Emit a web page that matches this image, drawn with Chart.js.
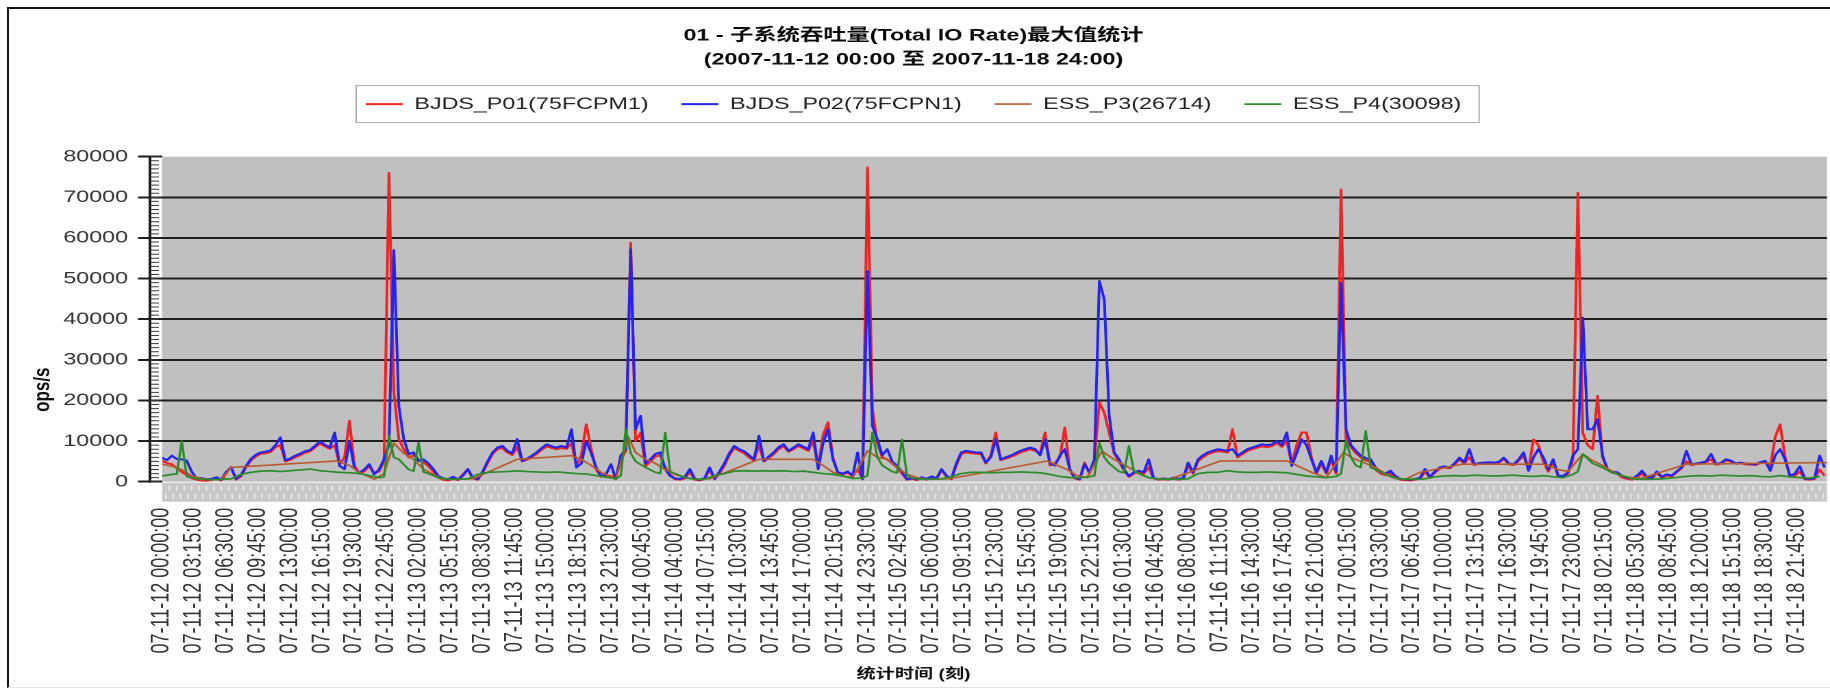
<!DOCTYPE html>
<html>
<head>
<meta charset="utf-8">
<script src="https://cdn.jsdelivr.net/npm/chart.js@4.4.1/dist/chart.umd.min.js"></script>
<style>
html,body{margin:0;padding:0;background:#fff;overflow:hidden;}
#stage{position:relative;width:1830px;height:693px;overflow:hidden;background:#fff;}
#wrap{position:absolute;left:0;top:0;width:1336px;height:693px;transform:scaleX(1.36976);transform-origin:0 0;}
#frame{position:absolute;left:7px;top:7px;right:-4px;bottom:5px;border-left:2px solid #151515;border-top:2px solid #151515;border-bottom:1px solid #e2e2e2;pointer-events:none;}
</style>
</head>
<body>
<div id="stage"><div id="wrap"><canvas id="c"></canvas></div><div id="frame"></div></div>
<script>
// ---------------- data ----------------
const chartTitle = ['01 - 子系统吞吐量(Total IO Rate)最大值统计', '(2007-11-12 00:00 至 2007-11-18 24:00)'];
const yAxisTitle = 'ops/s';
const xAxisTitle = '统计时间 (刻)';
const seriesNames = ['BJDS_P01(75FCPM1)', 'BJDS_P02(75FCPN1)', 'ESS_P3(26714)', 'ESS_P4(30098)'];

// one x-unit = one 15-minute sample; a tick label every 13 samples
const xTickLabels = [
'07-11-12 00:00:00','07-11-12 03:15:00','07-11-12 06:30:00','07-11-12 09:45:00','07-11-12 13:00:00','07-11-12 16:15:00','07-11-12 19:30:00','07-11-12 22:45:00',
'07-11-13 02:00:00','07-11-13 05:15:00','07-11-13 08:30:00','07-11-13 11:45:00','07-11-13 15:00:00','07-11-13 18:15:00','07-11-13 21:30:00',
'07-11-14 00:45:00','07-11-14 04:00:00','07-11-14 07:15:00','07-11-14 10:30:00','07-11-14 13:45:00','07-11-14 17:00:00','07-11-14 20:15:00','07-11-14 23:30:00',
'07-11-15 02:45:00','07-11-15 06:00:00','07-11-15 09:15:00','07-11-15 12:30:00','07-11-15 15:45:00','07-11-15 19:00:00','07-11-15 22:15:00',
'07-11-16 01:30:00','07-11-16 04:45:00','07-11-16 08:00:00','07-11-16 11:15:00','07-11-16 14:30:00','07-11-16 17:45:00','07-11-16 21:00:00',
'07-11-17 00:15:00','07-11-17 03:30:00','07-11-17 06:45:00','07-11-17 10:00:00','07-11-17 13:15:00','07-11-17 16:30:00','07-11-17 19:45:00','07-11-17 23:00:00',
'07-11-18 02:15:00','07-11-18 05:30:00','07-11-18 08:45:00','07-11-18 12:00:00','07-11-18 15:15:00','07-11-18 18:30:00','07-11-18 21:45:00'
];
const samplesPerLabel = 13;
const xMax = 675;

// BJDS_P01, half-hourly (every 2 samples)
const p01HalfHourly = [
5100,4600,4300,3300,2400,1700,900,500,300,200,400,800,300,2000,3600,500,1300,3500,5200,6200,
6900,7000,7300,8500,9000,5000,5400,6000,6500,7100,7500,8400,9400,8700,8100,9000,4300,6000,15000,4000,
2000,2600,3800,2200,2500,5000,76000,22000,
10500,8000,6000,6500,5500,4800,3800,2500,1000,500,300,700,400,1800,3000,800,500,2200,4600,6800,
8000,8300,7200,6600,8500,5000,5400,6100,6900,7900,8700,8300,8000,8300,8100,9500,4000,6500,14100,8000,
3000,1200,1500,1400,800,5500,7500,58800,
10000,12000,3800,5000,6200,6500,3500,1800,600,500,800,2500,500,300,700,3000,600,2000,4000,6500,
8300,7600,7000,6000,5200,9000,5000,5800,6800,8000,8700,7400,8000,8800,8200,7600,10000,3500,11500,14600,
6000,2000,1800,2200,1400,3000,800,77300,
17800,9500,6000,5500,4500,3500,2000,500,700,400,800,500,1000,700,2800,1300,600,4000,6800,7200,
7000,6900,6800,4500,6500,12100,5300,5700,6100,6600,7200,7600,8000,7600,7000,12100,4000,4500,6000,13300,
3000,800,500,4700,2000,5500,19500,17000,
12000,7000,5000,2800,1200,2000,2500,2000,3500,800,500,600,500,800,500,700,4000,2000,5000,6000,
6800,7200,7500,7400,7200,12900,6000,6800,7600,8000,8400,8700,8500,8800,9500,8600,10000,4500,9000,12100,
12100,6000,2000,4500,2000,5500,2000,71900,
10500,8500,7000,6000,5200,5000,3000,2000,1600,2200,1000,500,400,300,500,700,2500,1000,2200,3200,
3500,3300,4200,5500,4500,6000,4100,4400,4500,4600,4500,4700,5600,4300,4100,5200,6400,3000,10400,9000,
5000,2500,5000,1300,1200,2000,5500,71100,
12000,9000,8000,21100,6000,3000,2200,2000,1000,700,500,1200,2000,800,700,2200,1000,1500,1300,2300,
3300,5000,4100,4300,4500,4800,5500,4200,4400,5200,5000,4400,4500,4300,4200,4100,4600,4900,3500,11000,
14100,6000,1200,1500,2500,600,500,700,3000,1500
];

// BJDS_P02, half-hourly (every 2 samples)
const p02HalfHourly = [
5900,5300,6400,5600,5500,5200,2500,800,900,600,700,1100,500,2400,3500,700,1600,3800,5600,6600,
7200,7400,7700,9000,10900,5300,5700,6400,6900,7500,7800,8800,9900,9100,8400,12100,3900,3100,10000,3300,
2200,3000,4300,1800,3000,5500,9000,57000,
18600,10500,6800,7200,5100,5500,4500,3100,1400,800,600,1200,600,1500,3100,1000,600,2500,5000,7200,
8400,8800,7600,7000,10500,5100,5700,6400,7300,8300,9200,8700,8400,8800,8400,12900,3500,4500,10000,7000,
3500,1400,1800,4300,600,6400,8000,57200,
12900,16200,4500,5500,6800,7200,3100,1400,800,700,1200,3100,700,500,900,3500,700,2500,4500,7000,
8800,8000,7500,6500,5500,11300,5100,6200,7200,8500,9200,7600,8400,9200,8600,8000,12100,3100,9500,12900,
5500,2300,2000,2500,1500,7200,600,51800,
13700,10500,6500,8000,5000,3900,2500,600,900,600,1100,700,1300,800,3100,1500,700,4500,7200,7600,
7400,7200,7200,4700,6000,10400,5500,6000,6400,7000,7600,8000,8400,8000,6500,10400,4500,4000,6400,8000,
3100,1000,600,4300,2300,5500,49400,44900,
16200,7200,5500,3000,1400,2300,2700,2300,5500,900,600,800,600,1000,700,900,4700,2300,5500,6500,
7200,7600,8000,7800,7600,8000,6400,7200,8000,8400,8800,9200,9000,9200,10000,9000,12100,3900,7000,10400,
9000,5500,2300,5100,2300,6400,2500,49000,
12900,9000,7600,6400,5800,5500,3500,2500,2000,2700,1400,700,600,500,700,900,3100,1200,2500,3500,
3800,3500,4500,5900,4800,8000,4300,4600,4700,4800,4700,4900,5900,4500,4300,5500,7200,2700,6000,8000,
6000,3000,5500,1500,1400,2300,6400,8000,
40400,12900,12900,15400,6400,3100,2500,2300,1400,1000,800,1500,2700,1200,1000,2500,1200,1800,1500,2500,
3500,7600,4300,4500,4700,5000,6800,4400,4600,5500,5200,4500,4700,4500,4400,4300,4800,5100,2700,6500,
8000,5500,1400,2000,3800,800,700,900,6400,3500
];

// ESS_P3, only the samples where its line changes direction
const p3SampleIndex = [0,4,8,12,16,20,24,28,71,76,80,86,90,94,98,102,106,110,114,126,144,166,170,174,178,184,189,
192,196,200,204,208,212,216,222,242,264,268,272,276,280,286,290,294,298,302,306,310,319,359,
363,367,371,375,381,386,392,396,400,404,409,429,456,460,466,472,479,482,486,492,496,500,504,510,527,
560,566,570,576,580,584,588,592,596,600,618,675];
const p3Values = [4300,3800,3000,1500,800,500,600,3500,5100,4000,2300,600,2000,9500,7000,5500,3100,1800,600,700,5500,6400,5500,4000,2300,600,11000,
7200,5500,4500,3000,1800,1000,600,700,5500,5500,4000,2300,1400,1000,7600,6000,5500,3500,1800,1000,600,700,5100,
4000,3000,1500,1000,7500,5500,3500,2000,1000,600,700,5100,5100,4000,2300,1000,7200,6000,5000,3500,2000,1000,600,2300,4300,
4300,3000,2500,6800,5200,4000,2500,1400,1000,900,4300,4700];

// ESS_P4, [sample index, value]: hourly, with the samples next to each burst
const p4Samples = [
[0,1400],[4,1800],[6,1900],[8,10000],[10,1300],[12,1000],[16,600],[20,500],[24,600],[28,700],[32,1800],[36,2300],[40,2600],[44,2700],
[48,2500],[52,2700],[56,2900],[60,3100],[64,2700],[68,2500],[72,2300],[76,2200],[80,2000],[84,1500],[88,1000],[90,1200],[92,11300],[94,6000],
[96,5500],[100,3000],[102,2600],[104,9600],[106,2400],[108,2000],[112,1000],[116,600],[120,600],[124,700],[128,1800],[132,2300],[136,2400],
[140,2500],[144,2700],[148,2500],[152,2400],[156,2300],[160,2400],[164,2200],[168,2000],[172,1900],[176,1500],[180,1100],[184,700],[186,1500],
[188,12900],[190,7000],[192,5000],[196,3500],[200,2300],[202,2000],[204,12100],[206,2500],[208,2000],[212,1000],[216,600],[220,600],[224,1500],
[228,2000],[232,2600],[236,2700],[240,2600],[244,2700],[248,2600],[252,2700],[256,2500],[260,2600],[264,2300],[268,2000],[272,1800],[276,1400],
[280,800],[284,900],[286,1500],[288,12100],[290,6000],[292,4000],[296,2500],[298,2200],[300,10400],[302,1500],[304,900],[308,600],[312,600],
[316,700],[320,1200],[324,2000],[328,2300],[332,2300],[336,2200],[340,2300],[344,2300],[348,2400],[352,2300],[356,2200],[360,1800],[364,1300],
[368,1000],[372,1000],[376,1200],[378,1500],[380,9600],[382,6000],[384,4500],[388,2500],[390,2200],[392,8800],[394,2600],[396,2000],[400,1000],
[404,700],[408,600],[412,600],[416,700],[420,2000],[424,2300],[428,2300],[432,2700],[436,2400],[440,2300],[444,2300],[448,2400],[452,2300],
[456,2200],[460,1800],[464,1400],[468,1200],[472,1000],[476,1300],[478,2000],[480,10000],[482,6000],[484,4000],[486,3500],[488,12500],[490,3500],
[492,3000],[496,1800],[500,800],[504,600],[508,600],[512,700],[516,1200],[520,1400],[524,1500],[528,1400],[532,1600],[536,1500],[540,1400],
[544,1500],[548,1600],[552,1400],[556,1300],[560,1500],[564,1200],[568,1000],[572,1800],[574,2500],[576,6800],[580,4500],[584,3500],[588,2200],
[592,1500],[596,700],[600,600],[604,600],[608,700],[612,900],[616,1200],[620,1400],[624,1500],[628,1400],[632,1600],[636,1500],[640,1400],
[644,1500],[648,1300],[652,1200],[656,1500],[660,1200],[664,1000],[668,900],[672,1300]
];

// ---------------- chart ----------------
const FONT = "'Liberation Sans', Arial, 'Noto Sans CJK SC', sans-serif";
Chart.defaults.font.family = FONT;

const toPoints = (vals, step) => vals.map((v, i) => ({x: i * step, y: v}));

const legendSpacer = {
  id: 'legendSpacer',
  beforeLayout(chart) {
    const lg = chart.legend;
    if (lg && !lg._spaced) {
      const f = lg.fit;
      lg.fit = function () { f.call(this); this.height += 34.1; };
      lg._spaced = true;
    }
  }
};

const decor = {
  id: 'decor',
  beforeDraw(chart) {
    const {ctx, chartArea: a, scales: {x}} = chart;
    ctx.save();
    ctx.fillStyle = '#C0C0C0';
    ctx.fillRect(a.left, a.top, a.right - a.left, a.bottom - a.top);
    ctx.fillStyle = '#C8C8C8';
    ctx.fillRect(a.left, a.bottom + 1, a.right - a.left, 19);
    ctx.strokeStyle = '#EEEEEE';
    ctx.lineWidth = 1;
    ctx.beginPath();
    for (let v = x.min; v <= x.max; v += 3) {
      const p1 = x.getPixelForValue(v);
      ctx.moveTo(p1, a.bottom + 4); ctx.lineTo(p1, a.bottom + 9);
      const p2 = x.getPixelForValue(v + 1.5);
      if (p2 < a.right) { ctx.moveTo(p2, a.bottom + 12); ctx.lineTo(p2, a.bottom + 17); }
    }
    ctx.stroke();
    ctx.restore();
  },
  afterDraw(chart) {
    const {ctx, chartArea: a, scales: {y}} = chart;
    const ax = a.left - 8.8;
    ctx.save();
    ctx.strokeStyle = '#1a1a1a';
    ctx.lineWidth = 2;
    ctx.beginPath();
    ctx.moveTo(ax, y.getPixelForValue(y.max) - 1);
    ctx.lineTo(ax, y.getPixelForValue(y.min) + 1);
    ctx.stroke();
    ctx.strokeStyle = '#3a3a3a';
    ctx.lineWidth = 1;
    ctx.beginPath();
    for (let v = y.min; v <= y.max; v += 1000) {
      const py = y.getPixelForValue(v);
      ctx.moveTo(ax, py); ctx.lineTo(ax + 6.5, py);
    }
    ctx.stroke();
    // y axis title
    ctx.save();
    ctx.translate(31.4, a.bottom - 92);
    ctx.rotate(-Math.PI / 2);
    ctx.font = 'bold 17px ' + FONT;
    ctx.fillStyle = '#111';
    ctx.textAlign = 'center';
    ctx.textBaseline = 'middle';
    ctx.fillText(yAxisTitle, 0, 0);
    ctx.restore();
    // legend frame
    const hb = chart.legend && chart.legend.legendHitBoxes;
    if (hb && hb.length) {
      const first = hb[0], last = hb[hb.length - 1];
      const cy = first.top + first.height / 2;
      ctx.strokeStyle = '#ABABAB';
      ctx.lineWidth = 1;
      ctx.strokeRect(first.left - 7, cy - 18.5, last.left + last.width + 13 - (first.left - 7), 37);
    }
    ctx.restore();
  }
};

new Chart(document.getElementById('c'), {
  type: 'line',
  data: {
    datasets: [
      {label: seriesNames[0], data: toPoints(p01HalfHourly, 2), borderColor: '#EE2424', backgroundColor: '#EE2424', borderWidth: 2, order: 3},
      {label: seriesNames[1], data: toPoints(p02HalfHourly, 2), borderColor: '#2424EE', backgroundColor: '#2424EE', borderWidth: 2, order: 2},
      {label: seriesNames[2], data: p3SampleIndex.map((s, i) => ({x: s, y: p3Values[i]})), borderColor: '#B85A30', backgroundColor: '#B85A30', borderWidth: 1.6, order: 1},
      {label: seriesNames[3], data: p4Samples.map(([s, v]) => ({x: s, y: v})), borderColor: '#2A8C2A', backgroundColor: '#2A8C2A', borderWidth: 1.7, order: 0}
    ]
  },
  options: {
    responsive: true,
    maintainAspectRatio: false,
    animation: false,
    devicePixelRatio: 2,
    layout: {padding: {left: 0, right: 2.2, top: 0, bottom: 0}},
    elements: {
      point: {radius: 0, hoverRadius: 0},
      line: {tension: 0, borderJoinStyle: 'round', fill: false}
    },
    plugins: {
      title: {
        display: true, text: chartTitle, color: '#0a0a0a',
        font: {size: 17, weight: 'bold', lineHeight: 1.4},
        padding: {top: 24, bottom: 0}
      },
      subtitle: {
        display: true, position: 'bottom', text: xAxisTitle, color: '#111',
        font: {size: 14, weight: 'bold', lineHeight: 1.2},
        padding: {top: 0, bottom: 10}
      },
      legend: {
        display: true, position: 'top',
        labels: {
          usePointStyle: true, pointStyle: 'line', pointStyleWidth: 27,
          padding: 24, color: '#222', font: {size: 17},
          sort: (a, b) => a.datasetIndex - b.datasetIndex
        }
      },
      tooltip: {enabled: false}
    },
    scales: {
      x: {
        type: 'linear', min: 0, max: xMax,
        grid: {display: false, drawTicks: false, tickLength: 0},
        border: {display: false},
        afterBuildTicks: (s) => { s.ticks = xTickLabels.map((_, i) => ({value: i * samplesPerLabel})); },
        afterFit: (s) => { s.height = 184.5; s.paddingLeft = 0; s.paddingRight = 0; },
        ticks: {
          autoSkip: false, minRotation: 90, maxRotation: 90, padding: 26,
          color: '#333', font: {size: 18},
          callback: (v) => xTickLabels[Math.round(v / samplesPerLabel)]
        }
      },
      y: {
        min: 0, max: 80000,
        afterFit: (s) => { s.width = 118.27; },
        border: {display: false},
        grid: {
          color: (c) => (c.tick && (c.tick.value === 0 || c.tick.value === 80000)) ? 'rgba(0,0,0,0)' : '#1e1e1e',
          tickColor: '#1e1e1e', lineWidth: 2, tickLength: 17.5, drawTicks: true
        },
        ticks: {stepSize: 10000, padding: 7.3, color: '#333', font: {size: 17}, callback: (v) => String(v)}
      }
    }
  },
  plugins: [legendSpacer, decor]
});
</script>
</body>
</html>
